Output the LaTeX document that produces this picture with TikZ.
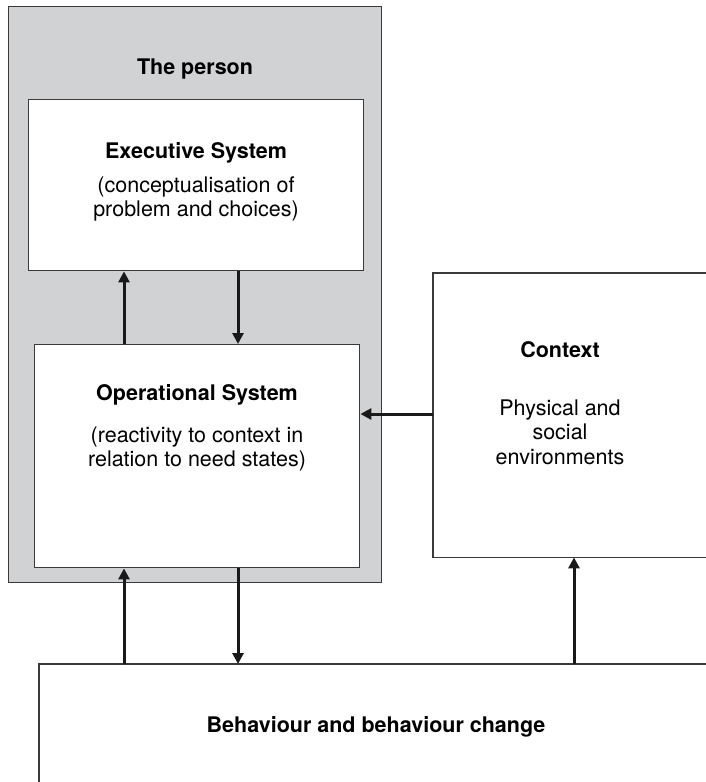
\documentclass[tikz,border=0pt]{standalone}
\usepackage{fontspec}
\setmainfont{TeX Gyre Heros}
\usetikzlibrary{arrows.meta, positioning, calc}
\definecolor{persongray}{HTML}{D1D2D4}
\definecolor{linegray}{HTML}{3A3A3A}
\begin{document}
\begin{tikzpicture}[
    x=1pt, y=-1pt,
    box/.style={draw=linegray, line width=1.4pt, fill=white, anchor=north west,
                inner sep=0pt},
    cutbox/.style={anchor=north west, inner sep=0pt},
    edge/.style={draw=linegray, line width=1.4pt},
    title/.style={font=\fontsize{21.5}{25}\selectfont\bfseries, anchor=base},
    desc/.style={font=\fontsize{21.5}{24.5}\selectfont, align=center},
    arrow/.style={-{Triangle[length=11pt, width=11pt]}, line width=3pt,
                  draw=black!90}
  ]
    \useasboundingbox (0,0) rectangle (705,782);

    % the person
    \node[box, fill=persongray, minimum width=373pt, minimum height=576pt]
      (person) at (8,6) {};
    \node[title] (persont) at (195,74) {The person};

    \node[box, minimum width=335pt, minimum height=171pt] (exec) at (28,99) {};
    \node[title] (exect) at (196,158) {Executive System};
    \node[desc] (execd) at (196,199) {(conceptualisation of\\problem and choices)};

    \node[box, minimum width=325pt, minimum height=223pt] (oper) at (34,344) {};
    \node[title] (opert) at (197,400) {Operational System};
    \node[desc] (operd) at (197,449) {(reactivity to context in\\relation to need states)};

    % context and behaviour, cut by the page edge
    \node[cutbox, minimum width=300pt, minimum height=284pt] (ctx) at (433,273) {};
    \draw[edge] (ctx.north east) -- (ctx.north west) -- (ctx.south west)
      -- (ctx.south east);
    \node[title] (ctxt) at (560,357) {Context};
    \node[desc] (ctxd) at (560,432) {Physical and\\social\\environments};

    \node[cutbox, minimum width=700pt, minimum height=160pt] (beh) at (39,664) {};
    \draw[edge] (beh.north east) -- (beh.north west) -- (beh.south west);
    \node[title] (beht) at (376,732) {Behaviour and behaviour change};

    % arrow columns
    \coordinate (colA) at (124,0);
    \coordinate (colB) at (238,0);
    \coordinate (colC) at (574,0);
    \coordinate (rowA) at (0,414);

    \draw[arrow] (oper.north -| colA) -- (exec.south -| colA);
    \draw[arrow] (exec.south -| colB) -- (oper.north -| colB);
    \draw[arrow] (ctx.west |- rowA) -- (oper.east |- rowA);
    \draw[arrow] (beh.north -| colA) -- (oper.south -| colA);
    \draw[arrow] (oper.south -| colB) -- (beh.north -| colB);
    \draw[arrow] (beh.north -| colC) -- (ctx.south -| colC);
  \end{tikzpicture}
\end{document}
